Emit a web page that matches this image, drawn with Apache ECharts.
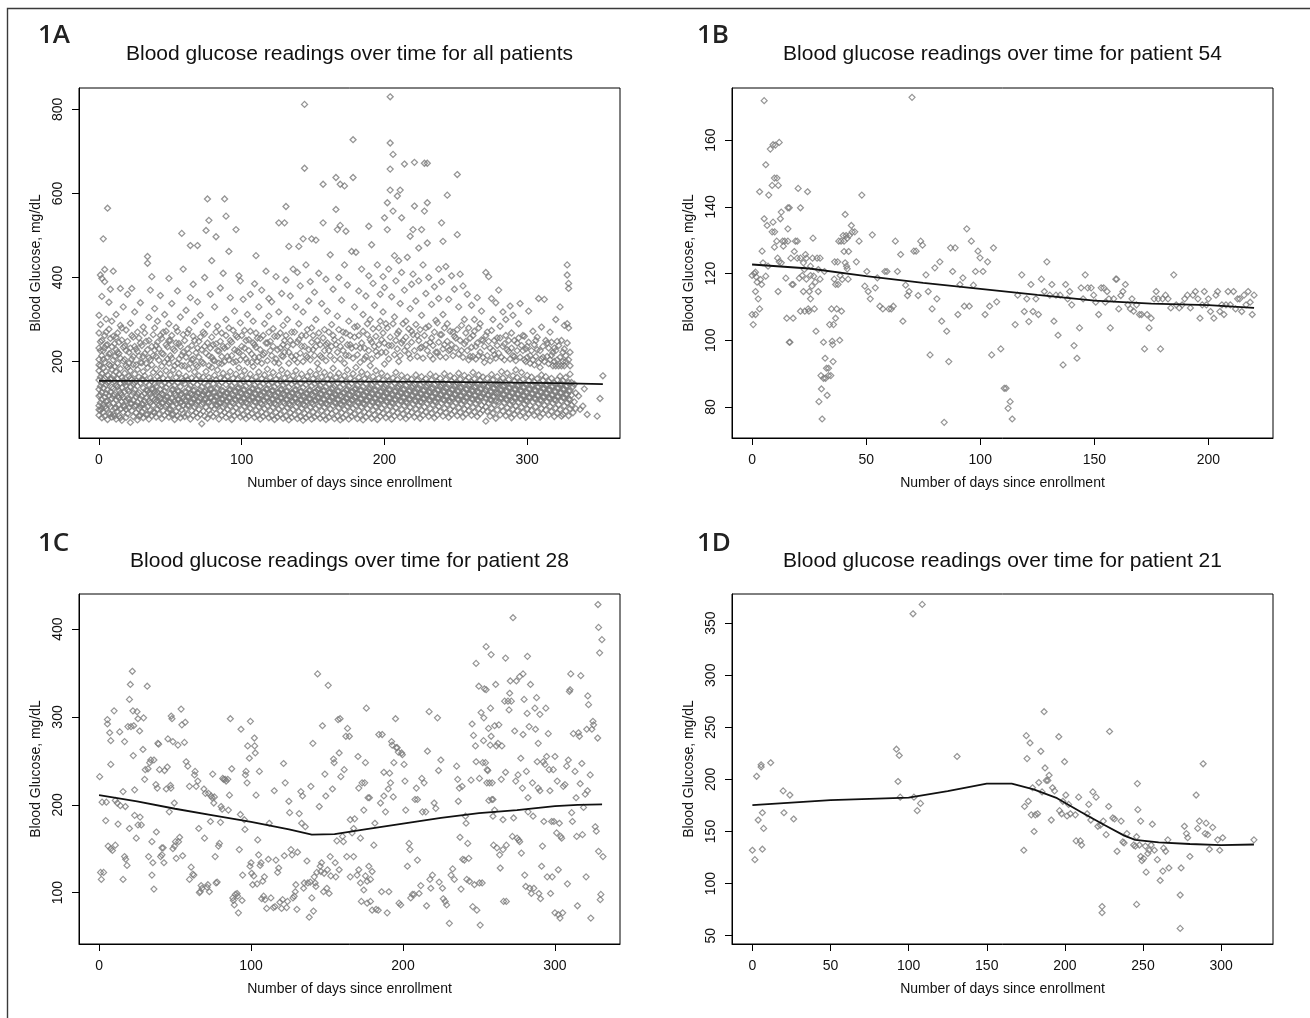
<!DOCTYPE html>
<html>
<head>
<meta charset="utf-8">
<title>Blood glucose readings over time</title>
<script src="https://cdn.jsdelivr.net/npm/echarts@6/dist/echarts.min.js"></script>
<style>
  html, body { margin: 0; padding: 0; background: #fff; }
  #chart { width: 1310px; height: 1018px; }
</style>
</head>
<body>
<div id="chart"></div>
<script>
// readings are [day since enrollment, blood glucose mg/dL]

// 1A - all patients
const readingsAll = [
[0,72],[0,95],[0,118],[0,134],[0,156],[0,178],[0,205],[0,232],[0,268],[0,310],[1,84],[1,102],[1,141],[1,163],[1,190],[1,247],[1,288],[2,66],[2,110],[2,127],[2,149],[2,171],[2,214],[2,355],[3,79],[3,98],[3,137],[3,185],[3,226],[3,492],[4,70],[4,115],[4,160],[4,198],[4,262],[4,419],[5,88],[5,124],[5,145],[5,176],[5,239],[5,301],[6,62],[6,106],[6,132],[6,168],[6,210],[6,565],[7,77],[7,119],[7,152],[7,193],[7,277],[7,341],[8,92],[8,128],[8,158],[8,220],[8,255],[9,68],[9,112],[9,139],[9,181],[9,296],[2,398],[1,406],[4,390],[8,372],
[10,74],[10,101],[10,136],[10,167],[10,204],[10,415],[11,89],[11,121],[11,153],[11,188],[11,243],[12,63],[12,109],[12,144],[12,175],[12,228],[12,312],[13,82],[13,117],[13,159],[13,196],[13,268],[14,70],[14,97],[14,131],[14,170],[14,219],[15,86],[15,125],[15,148],[15,183],[15,286],[15,374],[16,60],[16,104],[16,138],[16,162],[16,251],[17,79],[17,114],[17,155],[17,201],[17,330],[18,93],[18,128],[18,172],[18,237],[19,67],[19,107],[19,143],[19,190],[19,275],
[20,76],[20,112],[20,151],[20,186],[20,360],[21,90],[21,129],[21,165],[21,222],[22,55],[22,100],[22,140],[22,178],[22,291],[23,83],[23,120],[23,157],[23,206],[23,374],[24,69],[24,108],[24,146],[24,193],[24,258],[25,94],[25,133],[25,170],[25,318],[26,78],[26,116],[26,154],[26,230],[27,61],[27,103],[27,142],[27,181],[27,270],[28,87],[28,126],[28,163],[28,213],[29,72],[29,111],[29,149],[29,244],[29,340],
[30,80],[30,118],[30,158],[30,197],[31,66],[31,98],[31,137],[31,176],[31,282],[32,89],[32,124],[32,166],[32,219],[33,74],[33,113],[33,150],[33,248],[34,92],[34,131],[34,185],[34,450],[34,434],[35,63],[35,106],[35,145],[35,209],[35,305],[36,84],[36,122],[36,161],[36,370],[37,71],[37,115],[37,153],[37,192],[37,402],[38,96],[38,135],[38,174],[38,264],[39,78],[39,109],[39,147],[39,227],[39,326],
[40,68],[40,104],[40,141],[40,182],[40,238],[41,87],[41,127],[41,164],[41,296],[42,75],[42,117],[42,155],[42,203],[43,92],[43,133],[43,171],[43,357],[44,64],[44,101],[44,144],[44,189],[44,255],[45,83],[45,121],[45,160],[45,218],[46,72],[46,110],[46,149],[46,312],[47,95],[47,138],[47,178],[47,272],[48,79],[48,116],[48,157],[48,235],[49,68],[49,103],[49,146],[49,196],[49,398],[49,290],
[50,86],[50,124],[50,168],[50,250],[51,73],[51,112],[51,152],[51,208],[51,338],[52,94],[52,134],[52,180],[53,62],[53,106],[53,143],[53,226],[54,81],[54,120],[54,162],[54,281],[55,71],[55,110],[55,150],[55,196],[55,368],[56,90],[56,129],[56,172],[56,243],[57,66],[57,102],[57,140],[57,306],[58,85],[58,123],[58,160],[58,215],[58,505],[59,76],[59,114],[59,154],[59,264],[59,420],
[60,69],[60,108],[60,147],[60,190],[61,88],[61,127],[61,165],[61,322],[62,74],[62,116],[62,156],[62,230],[63,95],[63,136],[63,182],[63,276],[64,63],[64,103],[64,143],[64,476],[64,352],[65,83],[65,121],[65,161],[65,204],[66,72],[66,111],[66,150],[66,260],[66,384],[67,92],[67,132],[67,175],[67,296],[68,78],[68,118],[68,158],[68,221],[69,67],[69,105],[69,145],[69,188],[69,476],[69,342],
[70,86],[70,125],[70,166],[70,248],[71,74],[71,113],[71,152],[71,310],[72,52],[72,98],[72,139],[72,199],[73,82],[73,121],[73,163],[73,270],[74,70],[74,109],[74,148],[74,236],[74,400],[75,91],[75,131],[75,176],[75,512],[76,65],[76,104],[76,144],[76,587],[76,288],[77,84],[77,122],[77,162],[77,214],[77,536],[78,75],[78,114],[78,154],[78,360],[79,94],[79,134],[79,186],[79,258],[79,440],
[80,69],[80,107],[80,147],[80,203],[81,88],[81,127],[81,167],[81,330],[82,76],[82,116],[82,156],[82,497],[82,242],[83,96],[83,137],[83,180],[83,284],[84,63],[84,101],[84,143],[84,225],[85,83],[85,121],[85,161],[85,375],[86,72],[86,111],[86,151],[86,195],[86,268],[87,92],[87,130],[87,172],[87,410],[88,79],[88,118],[88,158],[88,587],[88,232],[89,67],[89,105],[89,145],[89,546],[89,300],
[90,86],[90,125],[90,164],[90,212],[91,74],[91,113],[91,152],[91,462],[91,280],[92,94],[92,134],[92,176],[92,352],[93,62],[93,103],[93,142],[93,246],[94,82],[94,120],[94,160],[94,198],[95,71],[95,110],[95,149],[95,320],[96,90],[96,129],[96,170],[96,514],[96,262],[97,77],[97,116],[97,157],[97,225],[98,97],[98,138],[98,185],[98,404],[99,68],[99,106],[99,146],[99,292],[99,392],
[100,85],[100,124],[100,166],[100,236],[101,73],[101,112],[101,153],[101,348],[102,93],[102,133],[102,178],[102,274],[103,64],[103,102],[103,142],[103,206],[104,81],[104,120],[104,160],[104,312],[105,70],[105,109],[105,148],[105,252],[106,89],[106,128],[106,170],[106,360],[107,76],[107,115],[107,156],[107,218],[108,95],[108,136],[108,188],[108,296],[109,67],[109,104],[109,144],[109,240],[109,385],
[110,84],[110,123],[110,163],[110,452],[110,268],[111,72],[111,111],[111,151],[111,200],[112,92],[112,132],[112,175],[112,330],[113,63],[113,101],[113,141],[113,255],[114,80],[114,119],[114,159],[114,370],[115,69],[115,108],[115,147],[115,216],[116,88],[116,127],[116,168],[116,290],[117,75],[117,114],[117,154],[117,415],[118,94],[118,135],[118,182],[118,244],[119,66],[119,105],[119,145],[119,308],[119,350],
[120,83],[120,122],[120,162],[120,226],[121,71],[121,110],[121,150],[121,342],[122,91],[122,131],[122,174],[122,278],[123,62],[123,100],[123,140],[123,198],[124,79],[124,118],[124,158],[124,402],[125,68],[125,107],[125,146],[125,260],[126,87],[126,126],[126,167],[126,530],[126,318],[127,74],[127,113],[127,153],[127,232],[128,93],[128,134],[128,180],[128,362],[129,65],[129,104],[129,144],[129,286],[129,212],
[130,82],[130,121],[130,161],[130,530],[130,250],[131,70],[131,109],[131,149],[131,569],[131,394],[132,90],[132,130],[132,172],[132,300],[133,61],[133,99],[133,139],[133,474],[133,222],[134,78],[134,117],[134,157],[134,356],[135,67],[135,106],[135,146],[135,270],[136,86],[136,125],[136,166],[136,420],[137,73],[137,112],[137,152],[137,205],[138,92],[138,133],[138,178],[138,330],[139,64],[139,103],[139,143],[139,246],[139,412],
[140,81],[140,120],[140,160],[140,474],[140,290],[141,69],[141,108],[141,148],[141,380],[142,89],[142,129],[142,170],[142,236],[143,60],[143,98],[143,138],[143,492],[143,318],[144,77],[144,116],[144,156],[144,812],[144,660],[145,66],[145,105],[145,145],[145,262],[145,430],[146,85],[146,124],[146,165],[146,210],[147,72],[147,111],[147,151],[147,344],[148,91],[148,132],[148,176],[148,390],[149,63],[149,102],[149,142],[149,492],[149,280],
[150,80],[150,119],[150,159],[150,228],[151,68],[151,107],[151,147],[151,365],[152,88],[152,128],[152,169],[152,489],[152,300],[153,74],[153,113],[153,153],[153,250],[154,94],[154,136],[154,182],[154,410],[155,65],[155,103],[155,143],[155,214],[156,83],[156,122],[156,163],[156,338],[157,71],[157,110],[157,150],[157,622],[157,530],[158,91],[158,131],[158,174],[158,276],[159,62],[159,100],[159,140],[159,396],[159,240],
[160,79],[160,118],[160,158],[160,320],[161,67],[161,106],[161,146],[161,226],[162,87],[162,127],[162,168],[162,454],[163,76],[163,115],[163,155],[163,288],[164,95],[164,137],[164,184],[164,372],[165,64],[165,102],[165,142],[165,252],[166,82],[166,121],[166,162],[166,638],[166,562],[167,70],[167,109],[167,149],[167,514],[167,308],[168,90],[168,130],[168,172],[168,400],[169,61],[169,99],[169,139],[169,622],[169,524],[169,236],
[170,78],[170,117],[170,157],[170,346],[171,66],[171,105],[171,145],[171,270],[172,86],[172,126],[172,166],[172,618],[172,430],[173,73],[173,112],[173,152],[173,510],[173,215],[174,93],[174,134],[174,180],[174,382],[175,63],[175,101],[175,141],[175,296],[176,81],[176,120],[176,160],[176,240],[177,69],[177,108],[177,148],[177,462],[178,89],[178,129],[178,171],[178,728],[178,638],[179,75],[179,114],[179,154],[179,330],[179,258],
[180,95],[180,136],[180,186],[180,460],[181,64],[181,103],[181,143],[181,284],[182,83],[182,122],[182,162],[182,368],[183,72],[183,111],[183,151],[183,232],[184,92],[184,132],[184,175],[184,420],[185,61],[185,100],[185,140],[185,312],[186,80],[186,119],[186,159],[186,206],[187,68],[187,107],[187,147],[187,356],[188,88],[188,128],[188,170],[188,264],[189,76],[189,115],[189,155],[189,522],[189,404],
[190,96],[190,138],[190,190],[190,300],[191,65],[191,104],[191,144],[191,478],[191,246],[192,84],[192,123],[192,164],[192,386],[193,73],[193,112],[193,152],[193,334],[194,93],[194,133],[194,178],[194,224],[195,62],[195,101],[195,141],[195,430],[196,81],[196,120],[196,160],[196,280],[197,69],[197,108],[197,148],[197,360],[198,89],[198,129],[198,172],[198,252],[199,77],[199,116],[199,156],[199,402],[199,318],
[200,97],[200,140],[200,194],[200,542],[200,376],[201,66],[201,105],[201,145],[201,290],[202,85],[202,124],[202,165],[202,578],[202,514],[203,74],[203,113],[203,153],[203,420],[203,238],[204,94],[204,134],[204,830],[204,720],[204,658],[204,608],[205,63],[205,102],[205,142],[205,354],[206,82],[206,121],[206,161],[206,693],[206,558],[207,70],[207,109],[207,149],[207,306],[207,452],[208,90],[208,130],[208,174],[208,392],[209,78],[209,117],[209,157],[209,594],[209,266],
[210,98],[210,141],[210,200],[210,440],[211,67],[211,106],[211,146],[211,608],[211,338],[212,86],[212,125],[212,167],[212,542],[212,412],[213,75],[213,114],[213,154],[213,250],[214,95],[214,135],[214,670],[214,370],[215,64],[215,103],[215,143],[215,296],[216,83],[216,122],[216,163],[216,448],[217,71],[217,110],[217,150],[217,218],[218,91],[218,131],[218,498],[218,326],[219,79],[219,118],[219,158],[219,384],[219,272],
[220,99],[220,142],[220,514],[220,408],[221,68],[221,107],[221,147],[221,674],[221,570],[222,87],[222,126],[222,168],[222,344],[223,76],[223,115],[223,155],[223,262],[224,96],[224,137],[224,392],[224,470],[225,65],[225,104],[225,144],[225,232],[226,84],[226,123],[226,164],[226,514],[226,310],[227,72],[227,111],[227,151],[227,430],[228,92],[228,132],[228,672],[228,558],[229,80],[229,119],[229,159],[229,280],[229,362],
[230,100],[230,143],[230,672],[230,578],[230,482],[231,69],[231,108],[231,148],[231,400],[232,88],[232,127],[232,170],[232,246],[233,77],[233,116],[233,156],[233,336],[234,97],[234,138],[234,206],[235,66],[235,105],[235,145],[235,378],[236,85],[236,124],[236,165],[236,298],[237,73],[237,112],[237,152],[237,222],[238,93],[238,133],[238,350],[238,420],[239,81],[239,120],[239,160],[239,264],
[240,101],[240,144],[240,530],[240,390],[241,70],[241,109],[241,149],[241,486],[241,312],[242,89],[242,128],[242,171],[242,240],[243,78],[243,117],[243,157],[243,426],[244,98],[244,139],[244,596],[244,290],[245,67],[245,106],[245,146],[245,348],[246,86],[246,125],[246,166],[246,228],[247,74],[247,113],[247,153],[247,404],[248,94],[248,134],[248,270],[249,82],[249,121],[249,161],[249,372],
[250,102],[250,145],[250,256],[251,71],[251,110],[251,150],[251,645],[251,502],[252,90],[252,129],[252,172],[252,330],[253,79],[253,118],[253,158],[253,408],[254,99],[254,140],[254,226],[255,68],[255,107],[255,147],[255,380],[256,87],[256,126],[256,167],[256,300],[257,75],[257,114],[257,154],[257,248],[258,95],[258,135],[258,360],[259,83],[259,122],[259,162],[259,280],
[260,103],[260,146],[260,212],[261,72],[261,111],[261,151],[261,334],[262,91],[262,130],[262,174],[262,262],[263,80],[263,119],[263,159],[263,300],[264,100],[264,141],[264,236],[265,69],[265,108],[265,148],[265,352],[266,88],[266,127],[266,168],[266,214],[267,76],[267,115],[267,155],[267,290],[268,96],[268,136],[268,320],[269,84],[269,123],[269,163],[269,250],
[270,104],[270,147],[270,198],[271,58],[271,92],[271,131],[271,412],[272,81],[272,120],[272,160],[272,270],[273,101],[273,142],[273,402],[274,70],[274,109],[274,149],[274,232],[275,89],[275,128],[275,169],[275,350],[276,77],[276,116],[276,156],[276,300],[277,97],[277,137],[277,216],[278,65],[278,105],[278,145],[278,340],[279,85],[279,124],[279,164],[279,256],
[280,105],[280,148],[280,370],[281,73],[281,112],[281,152],[281,284],[282,93],[282,132],[282,176],[283,82],[283,121],[283,161],[283,318],[284,102],[284,143],[284,242],[285,71],[285,110],[285,150],[285,300],[286,90],[286,129],[286,172],[287,78],[287,117],[287,157],[287,224],[288,98],[288,138],[288,332],[289,66],[289,106],[289,146],[289,268],
[290,86],[290,125],[290,166],[290,310],[291,74],[291,113],[291,153],[291,212],[292,94],[292,134],[292,180],[293,83],[293,122],[293,162],[293,244],[294,103],[294,144],[294,290],[295,71],[295,111],[295,151],[295,338],[296,91],[296,130],[296,174],[297,79],[297,118],[297,158],[297,226],[298,99],[298,139],[298,260],[299,67],[299,107],[299,147],[299,200],
[300,87],[300,126],[300,167],[300,236],[301,75],[301,114],[301,154],[301,320],[302,95],[302,135],[302,214],[303,84],[303,123],[303,163],[304,104],[304,145],[304,272],[305,72],[305,112],[305,152],[305,192],[306,92],[306,131],[306,250],[307,80],[307,119],[307,159],[307,228],[308,100],[308,140],[308,350],[309,68],[309,108],[309,148],[309,186],
[310,88],[310,127],[310,168],[310,282],[311,76],[311,115],[311,155],[311,210],[312,96],[312,136],[312,348],[313,85],[313,124],[313,164],[314,105],[314,146],[314,244],[315,73],[315,113],[315,153],[315,195],[316,93],[316,132],[316,270],[317,81],[317,120],[317,160],[317,215],[318,101],[318,141],[318,190],[319,69],[319,109],[319,149],[319,232],
[320,89],[320,128],[320,190],[320,300],[321,77],[321,116],[321,156],[321,248],[322,97],[322,137],[322,190],[323,86],[323,125],[323,165],[323,330],[324,70],[324,106],[324,147],[324,190],[325,74],[325,114],[325,154],[325,222],[326,94],[326,134],[326,190],[326,286],[327,82],[327,121],[327,162],[327,200],[328,102],[328,142],[328,430],[328,406],[328,290],[329,71],[329,110],[329,150],[329,386],[329,374],[329,280],[330,88],[330,130],[330,190],[330,170],
[331,96],[331,150],[331,120],[332,78],[332,140],[333,146],[333,104],[334,125],[334,88],[336,118],[337,86],[339,94],[340,135],[342,74],[349,70],[351,112],[353,166]
];
// 1A - the thick band of readings between roughly 60 and 300 mg/dL
const readingsAllBand = [
[0,85],[0,192],[1,120],[1,226],[2,88],[2,250],[3,156],[3,205],[4,92],[4,233],[5,105],[5,270],[6,150],[6,240],[7,98],[7,218],[8,75],[8,190],[9,160],[9,235],
[10,118],[10,260],[11,70],[11,212],[12,90],[12,258],[13,140],[13,222],[14,114],[14,246],[15,66],[15,208],[16,120],[16,280],[17,96],[17,234],[18,150],[18,205],[19,86],[19,226],
[20,132],[20,248],[21,110],[21,196],[22,160],[22,232],[23,100],[23,262],[24,126],[24,212],[25,150],[25,236],[26,96],[26,192],[27,122],[27,224],[28,70],[28,256],[29,92],[29,198],
[30,99],[30,238],[31,156],[31,212],[32,106],[32,268],[33,132],[33,196],[34,74],[34,228],[35,126],[35,250],[36,102],[36,204],[37,134],[37,236],[38,80],[38,214],[39,128],[39,280],
[40,122],[40,212],[41,108],[41,246],[42,96],[42,230],[43,112],[43,262],[44,124],[44,220],[45,102],[45,270],[46,130],[46,198],[47,116],[47,240],[48,98],[48,206],[49,86],[49,250],
[50,105],[50,214],[51,132],[51,262],[52,75],[52,230],[53,124],[53,190],[54,100],[54,244],[55,130],[55,272],[56,110],[56,206],[57,120],[57,236],[58,104],[58,190],[59,96],[59,222],
[60,128],[60,250],[61,106],[61,210],[62,95],[62,268],[63,116],[63,220],[64,124],[64,196],[65,102],[65,238],[66,131],[66,206],[67,112],[67,250],[68,98],[68,192],[69,125],[69,232],
[70,105],[70,210],[71,132],[71,258],[72,119],[72,228],[73,102],[73,196],[74,128],[74,266],[75,111],[75,220],[76,124],[76,244],[77,103],[77,190],[78,134],[78,232],[79,114],[79,210],
[80,127],[80,240],[81,108],[81,202],[82,96],[82,270],[83,117],[83,226],[84,122],[84,196],[85,102],[85,248],[86,131],[86,212],[87,111],[87,236],[88,98],[88,200],[89,125],[89,262],
[90,105],[90,236],[91,132],[91,204],[92,114],[92,250],[93,122],[93,214],[94,101],[94,274],[95,130],[95,228],[96,109],[96,200],[97,136],[97,258],[98,117],[98,222],[99,126],[99,204],
[100,104],[100,262],[101,132],[101,214],[102,113],[102,232],[103,122],[103,250],[104,100],[104,198],[105,128],[105,226],[106,108],[106,272],[107,135],[107,198],[108,115],[108,244],[109,124],[109,210],
[110,103],[110,234],[111,131],[111,256],[112,112],[112,210],[113,121],[113,228],[114,99],[114,196],[115,127],[115,262],[116,107],[116,220],[117,134],[117,244],[118,114],[118,202],[119,125],[119,270],
[120,102],[120,248],[121,130],[121,214],[122,111],[122,236],[123,120],[123,260],[124,98],[124,206],[125,126],[125,228],[126,106],[126,196],[127,133],[127,268],[128,113],[128,214],[129,124],[129,240],
[130,101],[130,222],[131,129],[131,262],[132,110],[132,236],[133,119],[133,196],[134,97],[134,250],[135,125],[135,212],[136,105],[136,240],[137,132],[137,270],[138,112],[138,214],[139,123],[139,198],
[140,100],[140,252],[141,128],[141,220],[142,109],[142,262],[143,118],[143,200],[144,96],[144,236],[145,124],[145,214],[146,104],[146,276],[147,131],[147,228],[148,111],[148,204],[149,122],[149,246],
[150,99],[150,262],[151,127],[151,214],[152,108],[152,236],[153,133],[153,196],[154,115],[154,268],[155,123],[155,240],[156,102],[156,210],[157,130],[157,256],[158,110],[158,226],[159,120],[159,202],
[160,98],[160,244],[161,126],[161,270],[162,107],[162,214],[163,135],[163,236],[164,116],[164,262],[165,122],[165,204],[166,101],[166,240],[167,129],[167,222],[168,110],[168,276],[169,119],[169,206],
[170,97],[170,252],[171,125],[171,226],[172,106],[172,196],[173,132],[173,268],[174,113],[174,240],[175,121],[175,214],[176,100],[176,262],[177,128],[177,232],[178,109],[178,208],[179,134],[179,282],
[180,116],[180,236],[181,123],[181,216],[182,102],[182,262],[183,131],[183,198],[184,112],[184,244],[185,120],[185,272],[186,99],[186,232],[187,127],[187,212],[188,108],[188,290],[189,134],[189,226],
[190,116],[190,252],[191,124],[191,206],[192,103],[192,278],[193,131],[193,236],[194,113],[194,260],[195,121],[195,214],[196,100],[196,240],[197,128],[197,296],[198,109],[198,222],[199,136],[199,268],
[200,118],[200,244],[201,125],[201,222],[202,104],[202,280],[203,132],[203,206],[204,114],[204,258],[205,122],[205,238],[206,101],[206,290],[207,129],[207,216],[208,110],[208,250],[209,137],[209,230],
[210,119],[210,272],[211,126],[211,214],[212,105],[212,244],[213,133],[213,290],[214,115],[214,226],[215,123],[215,258],[216,102],[216,236],[217,130],[217,278],[218,111],[218,208],[219,138],[219,246],
[220,120],[220,264],[221,127],[221,226],[222,106],[222,288],[223,134],[223,212],[224,116],[224,250],[225,124],[225,276],[226,103],[226,234],[227,131],[227,208],[228,112],[228,262],[229,139],[229,240],
[230,121],[230,226],[231,128],[231,284],[232,107],[232,214],[233,135],[233,256],[234,117],[234,238],[235,125],[235,270],[236,104],[236,222],[237,132],[237,292],[238,113],[238,246],[239,140],[239,212],
[240,122],[240,264],[241,129],[241,230],[242,108],[242,280],[243,136],[243,210],[244,118],[244,248],[245,126],[245,226],[246,105],[246,272],[247,133],[247,240],[248,114],[248,214],[249,141],[249,260],
[250,123],[250,232],[251,130],[251,276],[252,109],[252,218],[253,137],[253,250],[254,119],[254,286],[255,127],[255,210],[256,106],[256,242],[257,134],[257,268],[258,115],[258,226],[259,142],[259,204],
[260,124],[260,256],[261,131],[261,234],[262,110],[262,212],[263,138],[263,272],[264,120],[264,206],[265,128],[265,244],[266,107],[266,280],[267,135],[267,222],[268,116],[268,252],[269,143],[269,210],
[270,125],[270,236],[271,112],[271,262],[272,139],[272,214],[273,121],[273,248],[274,129],[274,202],[275,108],[275,274],[276,136],[276,226],[277,117],[277,250],[278,125],[278,208],[279,144],[279,238],
[280,126],[280,220],[281,133],[281,256],[282,113],[282,210],[283,140],[283,236],[284,122],[284,204],[285,130],[285,262],[286,109],[286,228],[287,137],[287,250],[288,118],[288,206],[289,126],[289,232],
[290,104],[290,214],[291,134],[291,250],[292,114],[292,202],[293,141],[293,226],[294,123],[294,256],[295,131],[295,210],[296,110],[296,238],[297,138],[297,262],[298,119],[298,204],[299,127],[299,230],
[300,106],[300,210],[301,135],[301,246],[302,115],[302,196],[303,142],[303,226],[304,124],[304,204],[305,132],[305,240],[306,111],[306,212],[307,139],[307,258],[308,120],[308,198],[309,128],[309,226],
[310,107],[310,206],[311,136],[311,236],[312,116],[312,200],[313,143],[313,250],[314,125],[314,212],[315,133],[315,232],[316,112],[316,204],[317,140],[317,246],[318,121],[318,222],[319,129],[319,200],
[320,108],[320,226],[321,137],[321,204],[322,117],[322,238],[323,144],[323,210],[324,126],[324,250],[325,134],[325,200],[326,113],[326,230],[327,141],[327,214],[328,122],[328,244],[329,130],[329,204],[330,109],[330,222]
];
const fitAll = [[0,154],[46,154],[47,151.5],[240,151.5],[241,148.5],[321,148.5],[322,146],[353,146]];

// 1B - patient 54
const readings54 = [
[0.5,104.7],[0,107.7],[1.5,107.7],[0,119.4],[1,120],[1.5,120.4],[1.8,119],[2.2,117.4],[1.5,114.6],[2.7,112.4],[3.3,109.4],[4.2,116.7],[3.7,118.2],[3.3,144.5],[4.4,126.7],[4.8,123.2],[5.3,171.8],[5.3,136.4],[6,152.6],[6.6,134.4],[6,119.2],[7,122.2],[7.3,143.5],[8,157.3],[9.2,158.6],[10.2,158.5],[11.9,159.3],[8.8,146.4],[9.2,135.4],[8.8,132.5],[9.9,132.5],[9.8,148.6],[10.9,148.6],[9.8,127.9],[10.8,129.7],[11.5,146.4],[11.2,124.6],[11.9,123.5],[11.4,114.6],[12.4,136.4],[12.8,138.4],[12.8,123.2],[13.4,129.7],[13.7,128.2],[14.3,129.7],[14.8,118.6],[15.2,106.6],[15.7,139.7],[16.3,139.7],[15.7,133.4],[15.7,129.7],[16.3,99.4],[16.6,99.4],[17,124.6],[17.5,116.7],[18,106.6],[18,116.7],[18.5,126.6],[19,129.7],[19.8,129.7],[20.2,145.5],[19.8,124.6],[20.7,118.6],[21.2,124.6],[21.2,139.7],[21.2,108.7],[22,119.4],[22.5,114.6],[22.5,123.2],[22.9,121.2],[23.1,108.7],[23.4,125.7],[23.8,124.6],[23.8,118.3],[24.3,144.5],[24.6,109.4],[24.9,108.7],[25.1,114.6],[25.6,122.2],[25.6,119.4],[25.6,112.4],[26.2,116.2],[26.7,130.6],[26.5,124.6],[27,119.2],[27.3,109.4],[27.7,117.4],[28,102.7],[28.5,124.6],[29,121.2],[29,114.6],[29.3,81.6],[29.8,124.6],[29.8,118.3],[30.2,89.4],[30.4,85.4],[30.7,76.4],[31.3,99.4],[31.7,120.6],[31.3,88.6],[32,94.6],[32.2,88.6],[32.6,91.6],[32.9,83.5],[33.5,91.6],[33.5,89.4],[34,104.7],[34.5,89.4],[34.8,109.4],[35.1,99.7],[35.3,98.7],[35.5,93.6],[35.7,104.7],[36,118.3],[36.2,123.5],[36.6,116.7],[36.6,106.6],[37.1,109.4],[37.5,123.5],[37.7,116.7],[38,129.7],[38.4,100],[38.6,119.4],[39,129.7],[39.2,108.7],[39.5,118.2],[39.9,131.4],[40.3,129.7],[40.3,126.6],[40.8,137.7],[40.8,123.2],[41.2,131.4],[41.4,122.2],[41.7,121.4],[41.7,130.6],[42.1,118.3],[42.3,126.6],[42.6,131.4],[43.5,134.4],[43.9,132.5],[45,132.5],[45.7,123.5],[46.9,129.7],[48.1,143.5],[49.4,116.2],[50.3,120.6],[50.9,114.6],[51.8,112.4],[52.7,131.6],[54,115.7],[54.9,118.7],[56,110.2],[57.3,109.4],[58.2,120.6],[59.1,120.6],[60,109.4],[61,109.4],[61.9,110.2],[62.8,129.7],[63.7,120.6],[65.1,125.7],[66.1,105.7],[67.3,116.5],[68.1,113.4],[68.8,114.6],[70.1,172.8],[70.9,126.7],[71.9,126.7],[72.8,113.4],[73.9,129.7],[74.7,128.5],[76.2,119.6],[77.2,114.6],[78,95.6],[78.9,109.4],[80.1,121.7],[81,112.4],[82.3,123.5],[83.1,105.7],[84.2,75.4],[85.3,102.7],[86.2,93.6],[87,127.7],[87.9,120.6],[89,127.7],[90.2,107.7],[91.1,116.7],[92.4,118.7],[93,110.2],[94.1,133.4],[95.2,110.2],[96.1,129.7],[97,116.5],[97.9,120.6],[99,126.7],[99.9,124.7],[101.2,120.6],[102.1,107.7],[103.2,123.5],[104.1,110.2],[105,95.6],[105.8,127.7],[107.2,111.5],[109,97.4],[110.5,85.6],[111.3,85.6],[112.2,79.6],[113.1,81.6],[114,76.4],[115.3,104.7],[116.4,113.5],[118.2,119.6],[119.3,108.6],[120.4,112.4],[121.3,105.6],[122.2,116.7],[123.1,108.6],[124.4,112.4],[125.5,107.7],[126.8,118.3],[128.1,114.6],[129.2,123.5],[130.5,113.5],[131.4,116.7],[132.3,105.7],[133.2,113.5],[134.1,101.5],[135,113.5],[136.3,92.6],[137.4,116.7],[138.3,112.4],[139.2,114.6],[140.1,110.6],[141.1,98.4],[142.4,94.6],[143.5,103.7],[144.2,115.7],[145.1,112.4],[146,119.6],[147.1,115.7],[148.6,115.7],[149.7,113.5],[150.6,111.4],[151.9,107.7],[153,115.7],[154.1,115.7],[154.8,111.4],[155.6,114.6],[156.4,112.4],[157,103.7],[158.5,112.4],[159.4,118.3],[159.8,118.3],[160.7,109.4],[161.6,113.4],[162.5,114.6],[163.6,116.7],[164.7,110.6],[165.8,109.4],[166.5,112.4],[167.2,108.7],[168.5,110.6],[169.8,107.7],[170.7,107.7],[172,97.4],[173.1,107.7],[174,103.7],[174.9,106.6],[176.2,112.4],[177.1,114.6],[178,112.4],[179,97.4],[179.9,112.4],[181.2,113.5],[182.3,112.4],[183.5,109.7],[184.8,119.6],[185.9,110.6],[187.2,109.7],[188.5,110.6],[189.6,112.4],[190.8,113.5],[192.1,109.7],[193.2,113.5],[194.3,114.6],[195.4,112.4],[196.3,106.6],[197.3,110.6],[198.2,114.6],[199.1,110.6],[200,112.4],[200.9,108.6],[202.4,106.6],[203.3,113.5],[204,114.6],[205,108.6],[205.9,110.6],[206.8,107.7],[207.7,110.6],[208.6,114.6],[209.6,110.6],[211,114.6],[211.9,109.4],[212.8,112.4],[213.7,112.4],[214.6,108.6],[215.6,113.5],[216.5,110.6],[217.4,114.6],[218.3,111.4],[219.2,107.7],[220,113.5]
];
const fit54 = [[0,122.7],[25,121.5],[50,119.2],[75,117.2],[100,115.4],[125,113.6],[150,111.9],[175,111],[200,110.5],[220,109.7]];

// 1C - patient 28
const readings28 = [
[0.4,232],[1,123],[3,123],[1.5,115],[2,203],[4.8,203],[4.4,182],[5.5,297],[5.5,292],[7,282],[7.7,273],[7.7,246],[6,153],[7.7,150],[8.8,148],[9.9,307],[10.7,154],[10.7,205],[12,202],[12.5,178],[13.6,283],[14,199],[15.8,115],[15.8,215],[16.8,272],[17.3,198],[16.8,141],[17.5,138],[18.4,131],[19,289],[20,320],[20,173],[20.6,337],[21,289],[21.9,352],[22.5,256],[22.3,307],[22.8,290],[23.4,217],[23.4,188],[24.5,162],[25,306],[25.6,298],[25.6,177],[26.7,284],[27,186],[27.8,177],[28.9,263],[29.3,299],[30,229],[30.4,240],[31.7,335],[32.2,241],[32.6,141],[33.3,248],[34,251],[34.8,120],[35.4,134],[36.1,251],[36.1,104],[34.8,158],[37.4,223],[37.7,169],[38.3,219],[38.7,270],[39.2,269],[39.8,240],[40.5,141],[41.4,143],[41.4,151],[42.2,151],[42.7,134],[43.1,239],[44.2,218],[44.9,243],[45.3,275],[46.2,192],[47,222],[47.3,219],[47.5,301],[48,298],[48.6,272],[48.6,150],[49.5,202],[49.7,153],[50.3,158],[50.8,139],[51.9,268],[52.3,158],[53,163],[54,309],[54.5,291],[55,142],[56.2,271],[56.7,294],[57.3,249],[58.4,244],[59.5,221],[59.5,115],[60.6,129],[61.7,121],[62.4,120],[62.8,234],[63.2,238],[63.9,221],[65,227],[65.6,173],[66,100],[66.6,101],[67.2,108],[67.8,105],[69,218],[69.4,162],[70,213],[71.1,106],[71.6,109],[72,213],[72.6,101],[73.3,181],[73.7,210],[74.4,208],[74.8,235],[75.5,202],[75.9,209],[76.4,141],[77,111],[77.7,112],[78.6,153],[79.2,156],[79.9,180],[80.3,198],[81,195],[81.4,230],[82,229],[83,229],[83.6,227],[84.7,229],[85.1,194],[85.8,211],[86.4,298],[87.3,241],[88,94],[88.4,91],[89,86],[89.7,98],[90.8,99],[91.2,96],[91.7,77],[92.3,149],[93,189],[93.4,286],[94.1,91],[94.5,120],[95.6,183],[96,172],[96.3,234],[96.7,238],[97.4,225],[97.8,267],[98.9,253],[99.6,295],[99.3,130],[100,134],[100.4,122],[101.1,109],[101.8,119],[102.2,276],[102.4,267],[102.8,259],[103.3,211],[104,110],[104.4,160],[105,143],[105.5,238],[106,131],[106.6,134],[107,93],[107.7,113],[108.3,96],[108.8,118],[109.2,92],[110.3,82],[111.4,138],[112,179],[113.1,94],[114.7,83],[115.3,216],[115.8,84],[116.4,137],[117.5,123],[118.2,128],[119,89],[120.1,82],[120.8,92],[121.4,247],[121.9,142],[122.5,225],[123.4,83],[124,90],[124.9,204],[125.4,191],[126.3,149],[127,143],[127.6,94],[128.4,96],[129.1,101],[129.5,109],[130.2,81],[130.6,146],[131.7,190],[132.8,215],[133.3,179],[133.9,210],[134.6,105],[135,111],[135.7,175],[136.8,136],[137.4,111],[138.3,72],[139,112],[139.4,221],[140,94],[140.7,270],[141.1,79],[141.6,118],[142.2,111],[142.7,107],[143.3,123],[143.8,349],[144.9,198],[145.5,130],[146,124],[146.4,134],[147,290],[147.7,101],[148.1,122],[148.6,235],[149.2,210],[149.9,105],[150.3,126],[150.8,336],[151.4,99],[152.1,141],[152.5,119],[153.6,218],[154.3,252],[154.7,248],[155.4,134],[155.8,118],[156.5,159],[157.3,297],[158,259],[158,126],[158.6,298],[159.1,232],[160.2,164],[160.8,158],[161.3,240],[162.4,278],[163,141],[163.5,287],
[164.7,278],[165.3,183],[168.2,184],[166.5,168],[167.5,173],[170.4,255],[170.9,219],[172,162],[173.1,225],[174.8,225],[175.3,248],[174.2,194],[175.9,310],[177,208],[177.9,208],[175.3,119],[176.4,113],[178.6,90],[179.7,80],[180.8,154],[181.5,179],[182.3,81],[183.7,80],[184.1,280],[185.2,202],[186.3,280],[187.4,237],[187.4,210],[188.5,192],[189.6,77],[190.3,218],[191.2,236],[191.8,225],[192.5,272],[192.9,268],[193.6,209],[194,248],[195.1,298],[195.6,265],[196.2,265],[196.9,260],[197.4,88],[198.5,86],[199.1,259],[199.6,257],[200.7,246],[201.3,227],[201.8,194],[202.9,130],[204,156],[204.6,149],[205.1,94],[206.2,98],[207.3,98],[207.9,206],[208.8,219],[209.5,206],[209.5,137],[210.6,99],[211.7,108],[212.4,230],[212.8,192],[213.9,225],[215,192],[215.5,85],[216.1,261],[217.2,306],[217.7,115],[218.3,105],[219.4,120],[220.5,202],[221.6,196],[222.7,299],[223.4,239],[223.8,112],[224.9,251],[226,105],[226.5,93],[227.8,90],[228.7,86],[230.5,65],[231.6,120],[232.7,127],[233.8,115],[235.3,244],[236,229],[236.4,204],[237.1,219],[237.5,163],[238.2,104],[238.9,221],[239.3,138],[240.4,137],[241.1,187],[241.5,179],[242,115],[242.6,156],[243.3,139],[243.7,113],[244.8,228],[245.5,292],[245.9,84],[246.4,279],[247,109],[247.7,267],[248.1,361],[248.1,249],[248.6,80],[249.9,335],[250.3,230],[250.3,111],[250.8,63],[251.4,305],[252.1,111],[252.5,248],[253,273],[253.2,299],[253.6,332],[254.3,248],[254.7,380],[254.7,331],[255.2,225],[255.4,240],[255.8,239],[256.3,287],[256.5,205],[256.9,225],[257.4,268],[257.6,310],[258,371],[258,278],[258.5,206],[258.7,225],[259.2,206],[259.2,187],[259.6,154],[260.3,194],[260.3,290],[261,337],[261.4,267],[261.8,151],[262.5,270],[263.1,291],[263.6,143],[264,128],[264.7,229],[265.1,267],[265.8,149],[265.8,183],[266.2,90],[266.9,318],[267.5,237],[268,90],[267.5,367],[268,154],[269.1,318],[269.8,308],[270.2,327],[270.6,341],[271.3,318],[272,164],[272.4,413],[272.8,185],[273.5,284],[274.2,227],[274.6,341],[275.1,162],[275.7,234],[276.2,160],[276.8,158],[276.8,346],[277.5,253],[277.9,145],[278.6,219],[279,349],[279,280],[279.7,320],[280.1,120],[280.8,107],[281.2,238],[281.7,304],[281.9,369],[282.3,208],[282.3,192],[283,289],[283.4,105],[283.9,337],[284.5,99],[285.2,225],[285.6,187],[286.1,105],[286.8,310],[287.2,286],[287.9,322],[288.3,249],[289,219],[289,270],[289.4,99],[290.1,303],[290.1,216],[290.5,93],[291.2,130],[291.8,153],[292.3,249],[292.7,181],[293.4,246],[294,310],[294.5,255],[294.9,118],[295.6,281],[296.2,240],[296.7,216],[297.1,99],[297.8,181],[298.2,118],[298.9,240],[299.3,181],[300,255],[300,77],[301.1,168],[301.5,227],[302.2,126],[302.2,75],[302.9,179],[303.3,71],[303.8,164],[304.4,162],[305.1,77],[305.5,221],[306.6,223],[307.7,244],[308.2,110],[308.8,251],[309.5,329],[309.9,331],[310.4,349],[311,191],[311.5,181],[312.1,281],[313.2,238],[313.9,208],[314.3,164],[314.8,85],[315.5,282],[316.1,278],[316.6,224],[317,347],[317.7,247],[318.1,166],[318.8,197],[319.9,212],[320.5,118],[320.9,286],[321.4,216],[321.6,324],[322.1,314],[323.2,234],[323.6,71],[324.3,286],[325,295],[325.4,291],[326.5,175],[327.2,170],[328.1,276],[328.3,428],[328.7,402],[329.4,373],[329.8,92],[330.2,98],[330.9,388],[331.6,141],[328.7,147],
[167.5,141],[165.3,118],[170.9,126],[172,111],[174.2,103],[177.5,130],[179.7,124],[169.8,120],[172.6,90],[176.4,88],[178.6,115],[185.9,101],[190.7,101]
];
const fit28 = [[0,211],[25,204],[50,195.5],[75,188],[100,180.5],[125,172],[140,166],[155,166.5],[175,172],[200,178.5],[225,185],[250,190.5],[275,194],[300,198.5],[315,200],[331,200.5]];

// 1D - patient 21
const readings21 = [
[0,132],[1.6,123],[2.7,203],[3.7,161],[5.6,214],[5.6,212],[6.4,168],[6.4,133],[7.2,153],[11.7,216],[19.7,189],[20.2,168],[24,185],[26.4,162],[92.2,229],[94,223],[93.2,198],[94.6,183],[102.8,359],[108.7,368],[103.4,183],[105.5,170],[107.6,177],[131,222],[173.7,132],[174.2,174],[175.3,242],[175.8,220],[176.6,179],[177.7,235],[178.5,166],[179.3,192],[180.3,150],[181.1,166],[182.5,167],[183.3,197],[184.6,227],[185.4,188],[186.7,265],[187.3,211],[188.1,199],[189.1,199],[189.9,204],[191.3,161],[192.1,192],[193.4,189],[196.1,241],[196.6,170],[197.9,167],[198.7,179],[199.8,217],[200.6,185],[201.4,165],[202.4,176],[203.5,167],[206.7,166],[207.2,141],[208.8,183],[209.9,141],[210.7,137],[214.2,167],[215.3,176],[216.6,161],[217.9,188],[220,183],[221.1,155],[222.7,156],[223.8,78],[223.8,72],[224.6,160],[226.4,147],[228,174],[228.6,246],[230.7,163],[231.8,162],[233.4,131],[236,160],[237.1,140],[237.9,139],[239.7,148],[244,137],[245.1,136],[245.9,145],[246.4,196],[246.7,171],[245.9,80],[247.7,137],[248.5,160],[248.5,126],[249.3,122],[250.4,124],[251.5,136],[252,111],[253.1,129],[253.9,132],[255.2,137],[256,157],[257.3,132],[259.2,123],[261,103],[262.7,112],[263.2,134],[264.5,131],[265.9,142],[266.6,115],[273.8,89],[274.4,115],[273.8,57],[276.5,155],[277.8,148],[278.6,144],[280,126],[284,185],[285,153],[286.1,160],[288.5,215],[289.8,148],[290.4,158],[291.4,147],[292.5,133],[294.6,154],[297.8,142],[299.1,132],[301,144],[321,142]
];
const fit21 = [[0,175.4],[25,177.8],[50,180.2],[75,181.4],[100,182.5],[125,188.8],[150,196],[166,196],[180,190.5],[195,182],[210,169],[225,156.5],[238,146],[245,142],[260,139.5],[280,138],[300,137],[321,137.5]];

const panelTags = ['1A', '1B', '1C', '1D'];
const panelTitles = [
  'Blood glucose readings over time for all patients',
  'Blood glucose readings over time for patient 54',
  'Blood glucose readings over time for patient 28',
  'Blood glucose readings over time for patient 21'
];
const dayTicks = [[0,100,200,300], [0,50,100,150,200], [0,100,200,300], [0,50,100,150,200,250,300]];
const glucoseTicks = [[200,400,600,800], [80,100,120,140,160], [100,200,300,400], [50,100,150,200,250,300,350]];
// plot ranges (R pads the data range by 4%)
const dayRanges = [[-14, 365], [-8.8, 228.3], [-13.2, 342.8], [-13.05, 333.2]];
const glucoseRanges = [[18, 851], [70.7, 175.6], [41.5, 440], [42, 378]];
const xName = 'Number of days since enrollment';
const yName = 'Blood Glucose, mg/dL';

const FONT = "'Liberation Sans', Arial, Helvetica, sans-serif";
const boxes = [{left: 79, top: 88}, {left: 732, top: 88}, {left: 79, top: 594}, {left: 732, top: 594}];
const BOX_W = 541, BOX_H = 350;
const allReadings = [readingsAll.concat(readingsAllBand), readings54, readings28, readings21];
const allFits = [fitAll, fit54, fit28, fit21];
const markerWidth = [1.3, 1.2, 1.2, 1.2];

const chart = echarts.init(document.getElementById('chart'));

const grids = [], xAxes = [], yAxes = [], series = [];
const graphic = [{
  type: 'polyline', silent: true,
  shape: {points: [[7.5, 1018], [7.5, 8.5], [1310, 8.5]]},
  style: {stroke: '#3a3a3a', lineWidth: 1.4, fill: null}
}];

boxes.forEach(function (b, i) {
  grids.push({
    left: b.left, top: b.top, width: BOX_W, height: BOX_H,
    show: true, borderColor: '#000', borderWidth: 1, backgroundColor: '#fff'
  });
  xAxes.push({
    type: 'value', gridIndex: i,
    min: dayRanges[i][0], max: dayRanges[i][1],
    name: xName, nameLocation: 'middle', nameGap: 38,
    nameTextStyle: {fontFamily: FONT, fontSize: 14, color: '#111'},
    axisLine: {show: true, onZero: false, lineStyle: {color: '#000', width: 1}},
    axisTick: {show: true, inside: false, length: 7, customValues: dayTicks[i], lineStyle: {color: '#000', width: 1}},
    axisLabel: {show: true, customValues: dayTicks[i], margin: 15, fontFamily: FONT, fontSize: 14, color: '#111'},
    splitLine: {show: false}
  });
  yAxes.push({
    type: 'value', gridIndex: i,
    min: glucoseRanges[i][0], max: glucoseRanges[i][1],
    name: yName, nameLocation: 'middle', nameGap: 36,
    nameTextStyle: {fontFamily: FONT, fontSize: 14, color: '#111'},
    axisLine: {show: true, onZero: false, lineStyle: {color: '#000', width: 1}},
    axisTick: {show: true, inside: false, length: 7, customValues: glucoseTicks[i], lineStyle: {color: '#000', width: 1}},
    axisLabel: {show: true, customValues: glucoseTicks[i], rotate: 90, margin: 14, fontFamily: FONT, fontSize: 14, color: '#111'},
    splitLine: {show: false}
  });
  series.push({
    type: 'scatter', xAxisIndex: i, yAxisIndex: i,
    data: allReadings[i], symbol: 'diamond', symbolSize: 6,
    itemStyle: {color: 'rgba(255,255,255,0)', borderColor: '#7a7a7a', borderWidth: markerWidth[i]},
    silent: true, progressive: 0, large: false, z: 2
  });
  series.push({
    type: 'line', xAxisIndex: i, yAxisIndex: i,
    data: allFits[i], showSymbol: false, symbol: 'none',
    lineStyle: {color: '#111', width: 1.8}, silent: true, z: 3
  });

  const top = b.top < 300;
  graphic.push({
    type: 'text', silent: true, x: b.left + BOX_W / 2, y: top ? 54 : 561,
    style: {text: panelTitles[i], fontFamily: FONT, fontSize: 21, fill: '#111', align: 'center', verticalAlign: 'middle'}
  });
  graphic.push({
    type: 'text', silent: true, x: b.left < 300 ? 38 : 697, y: top ? 36 : 544,
    style: {text: panelTags[i], fontFamily: "'Open Sans', 'Noto Sans', sans-serif", fontWeight: 600, fontSize: 26, fill: '#222', align: 'left', verticalAlign: 'middle'}
  });
});

chart.setOption({
  backgroundColor: '#fff',
  animation: false,
  grid: grids,
  xAxis: xAxes,
  yAxis: yAxes,
  series: series,
  graphic: graphic
});
</script>
</body>
</html>
